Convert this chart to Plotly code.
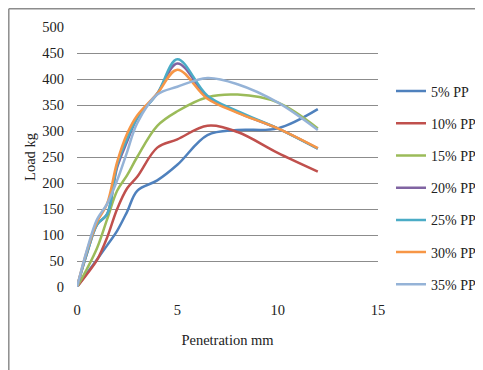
import plotly.graph_objects as go

penetration = [0, 0.5, 1, 1.5, 2, 2.5, 3, 4, 5, 6.5, 8, 10, 12]

series_names = ["5% PP", "10% PP", "15% PP", "20% PP", "25% PP", "30% PP", "35% PP"]
pp5 = [0, 27, 53, 80, 108, 145, 185, 205, 235, 292, 302, 305, 342]
pp10 = [0, 25, 52, 95, 150, 190, 212, 268, 284, 310, 298, 258, 222]
pp15 = [0, 35, 75, 130, 185, 215, 250, 310, 338, 365, 370, 355, 305]
pp20 = [0, 65, 120, 140, 230, 280, 325, 372, 430, 366, 336, 305, 266]
pp25 = [0, 65, 120, 140, 235, 285, 325, 372, 438, 368, 338, 305, 266]
pp30 = [0, 70, 125, 160, 240, 295, 330, 372, 418, 362, 335, 305, 267]
pp35 = [0, 72, 130, 160, 205, 260, 315, 370, 385, 402, 390, 355, 302]

colors = ["#4F81BD", "#C0504D", "#9BBB59", "#8064A2", "#4BACC6", "#F79646", "#95B3D7"]

x_ticks = [0, 5, 10, 15]
y_ticks = [0, 50, 100, 150, 200, 250, 300, 350, 400, 450, 500]

fig = go.Figure()
for name, vals, col in zip(series_names, [pp5, pp10, pp15, pp20, pp25, pp30, pp35], colors):
    fig.add_trace(go.Scatter(
        x=penetration, y=vals, name=name, mode="lines",
        line=dict(color=col, width=2.5, shape="spline", smoothing=1.0),
        legendgroup=name,
    ))

font_family = "Liberation Serif, Times New Roman, serif"

# page body has an 8px margin; figure coordinates are page coordinates minus 8
OFF = 8
W, H = 475, 362
L, T = 77 - OFF, 27 - OFF
R = W - (378 - OFF)
B = H - (287 - OFF)
pw, ph = W - L - R, H - T - B

def px_x(p):
    return (p - OFF - L) / pw

def px_y(q):
    return (H - B - (q - OFF)) / ph

fig.update_layout(
    width=W, height=H,
    margin=dict(l=L, r=R, t=T, b=B, pad=0, autoexpand=False),
    paper_bgcolor="white", plot_bgcolor="white",
    font=dict(family=font_family, size=14, color="#222222"),
    xaxis=dict(range=[0, 15], tickvals=x_ticks, showgrid=False, zeroline=False,
               showline=False, ticks="", tickfont=dict(size=14.5),
               ticklabelstandoff=12,
               title=dict(text="Penetration mm", font=dict(size=14.5), standoff=18)),
    yaxis=dict(range=[0, 500], tickvals=y_ticks, showgrid=True, gridcolor="#8c8c8c",
               gridwidth=1, zeroline=False, showline=False, ticks="",
               tickfont=dict(size=14.5), ticklabelstandoff=12,
               title=dict(text="Load kg", font=dict(size=14.5), standoff=3)),
    legend=dict(x=px_x(391), xanchor="left", y=px_y(188), yanchor="middle",
                font=dict(size=14), tracegroupgap=11, bgcolor="rgba(0,0,0,0)",
                borderwidth=0),
    showlegend=True,
    shapes=[
        dict(type="line", xref="paper", yref="paper", x0=px_x(8.8), x1=px_x(8.8),
             y0=px_y(8.8), y1=px_y(380), line=dict(color="#8c8c8c", width=1.5)),
        dict(type="line", xref="paper", yref="paper", x0=px_x(8.8), x1=px_x(490),
             y0=px_y(8.8), y1=px_y(8.8), line=dict(color="#8c8c8c", width=1.5)),
    ],
)

fig.write_html("out.html")
